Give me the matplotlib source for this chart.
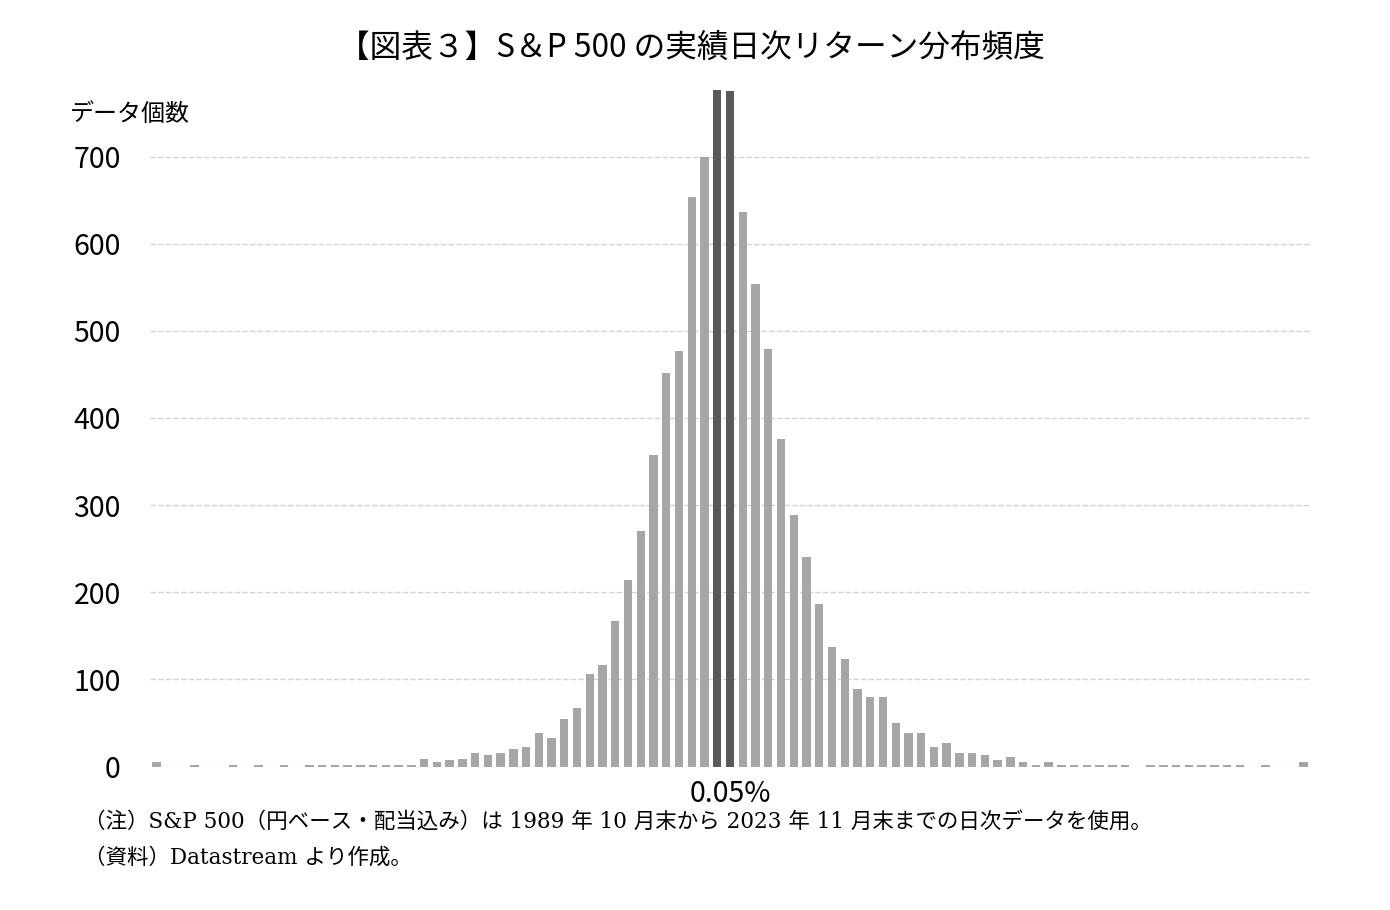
import matplotlib
matplotlib.use("Agg")
import matplotlib.pyplot as plt
import numpy as np

plt.rcParams["font.family"] = ["Noto Sans CJK JP", "DejaVu Sans"]

# 日次リターンの階級ごとのデータ個数（左端から右端まで 91 階級）
counts = [
    5, 0, 0, 2, 0, 0, 2, 0, 2, 0,
    2, 0, 2, 2, 2, 2, 2, 2, 2, 2,
    2, 9, 5, 7, 9, 16, 13, 16, 20, 22,
    39, 33, 55, 67, 106, 117, 167, 214, 270, 358,
    452, 477, 653, 699, 776, 775, 636, 554, 479, 376,
    289, 240, 186, 137, 123, 89, 80, 80, 50, 39,
    39, 22, 27, 15, 15, 13, 7, 11, 5, 2,
    5, 2, 2, 2, 2, 2, 2, 0, 2, 2,
    2, 2, 2, 2, 2, 2, 0, 2, 0, 0,
    5,
]
highlight = [44, 45]          # 0.05% 付近の階級
yticks = [0, 100, 200, 300, 400, 500, 600, 700]
xlabel_pos = 45
xlabel_text = "0.05%"

title = "【図表３】S＆P 500 の実績日次リターン分布頻度"
ylabel = "データ個数"
note1 = "（注）S&P 500（円ベース・配当込み）は 1989 年 10 月末から 2023 年 11 月末までの日次データを使用。"
note2 = "（資料）Datastream より作成。"

LIGHT = "#A6A6A6"
DARK = "#595959"

fig = plt.figure(figsize=(13.9, 9.1), dpi=100)
ax = fig.add_axes([150 / 1390, (910 - 766.5) / 910, 1160 / 1390, 679.7 / 910])

x = np.arange(len(counts))
colors = [DARK if i in highlight else LIGHT for i in x]
ax.bar(x, counts, width=0.66, color=colors, zorder=3)

ax.set_xlim(-0.5, len(counts) - 0.5)
ax.set_ylim(0, 780)
ax.set_yticks(yticks)
ax.set_yticklabels([str(v) for v in yticks], fontsize=20.5)
ax.tick_params(axis="y", length=0, pad=21)
ax.set_xticks([xlabel_pos])
ax.set_xticklabels([xlabel_text], fontsize=20.5)
ax.tick_params(axis="x", length=0, pad=9)
ax.grid(True, axis="y", color="#D4D4D4", linestyle=(0, (4, 1.5)), linewidth=1.0, zorder=0)
for s in ax.spines.values():
    s.set_visible(False)

fig.text(691 / 1390, 1 - 48 / 910, title, ha="center", va="center", fontsize=22.8)
fig.text(70 / 1390, 1 - 114 / 910, ylabel, ha="left", va="center", fontsize=17.3)

note_font = ["DejaVu Serif", "Noto Sans CJK JP"]
fig.text(84 / 1390, 1 - 822 / 910, note1, ha="left", va="center", fontsize=15.5, family=note_font)
fig.text(84 / 1390, 1 - 858 / 910, note2, ha="left", va="center", fontsize=15.5, family=note_font)

fig.savefig("out.png", dpi=100)
